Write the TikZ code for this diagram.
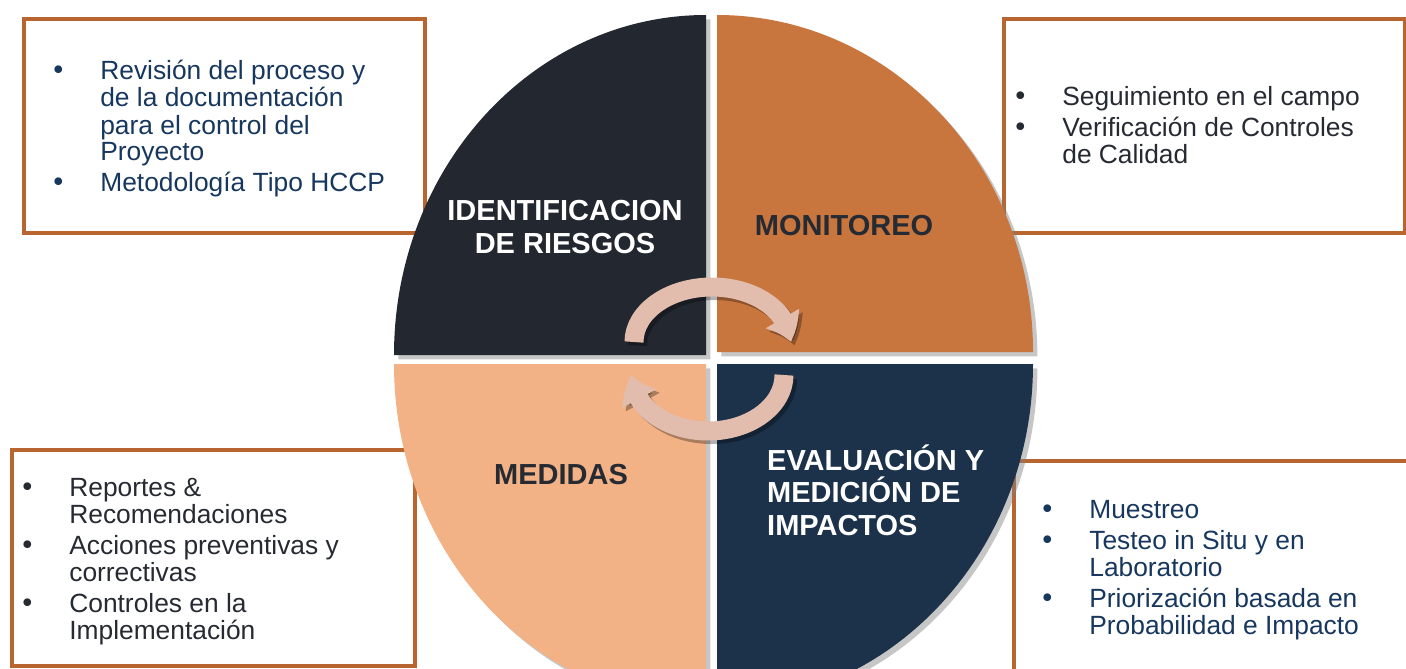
\documentclass[tikz,border=0pt]{standalone}
\usepackage{fontspec}
\setmainfont{Liberation Sans}
\newfontfamily\bulletfont{DejaVu Sans}
\usepackage{array}
\usetikzlibrary{arrows.meta,bending,shadows}
\definecolor{riesgo}{RGB}{35,39,48}
\definecolor{monit}{RGB}{200,118,62}
\definecolor{medida}{RGB}{243,178,134}
\definecolor{evalua}{RGB}{28,49,74}
\definecolor{flecha}{RGB}{226,188,172}
\definecolor{marco}{RGB}{184,101,48}
\definecolor{azul}{RGB}{23,55,94}
\definecolor{gris}{RGB}{38,42,50}
\pgfdeclarelayer{background}
\pgfsetlayers{background,main}
\newcolumntype{V}{@{}w{c}{1.68cm}@{}l@{}}
\newcommand{\vineta}{{\bulletfont •}}
\tikzstyle{infobox}=[draw=marco, line width=2.3pt, fill=white, rectangle,
    anchor=north west, inner sep=0pt]
\tikzstyle{bullets}=[anchor=west, inner sep=0pt,
    font=\fontsize{15}{15.3}\selectfont]
\tikzstyle{title}=[font=\fontsize{16.5}{18.4}\selectfont\bfseries, align=center]
\tikzstyle{quad}=[drop shadow={shadow xshift=2.5pt, shadow yshift=-2.5pt, opacity=0.45}]
\tikzstyle{ciclo}=[line width=0.38cm, draw=flecha,
    -{Triangle[width=0.74cm, length=0.5cm, bend]}]

\begin{document}
\begin{tikzpicture}[x=0.02cm, y=-0.02cm]
  \useasboundingbox (0,0) rectangle (1406,669);
  \clip (0,0) rectangle (1406,669);

  \begin{pgfonlayer}{background}
    \node[infobox, minimum width=8.02cm, minimum height=4.28cm] (b1) at (22,17) {};
    \node[infobox, minimum width=8.02cm, minimum height=4.28cm] (b2) at (1002,17) {};
    \node[infobox, minimum width=8.06cm, minimum height=4.32cm] (b3) at (10,448) {};
    \node[infobox, minimum width=8.6cm, minimum height=5cm] (b4) at (1012,459) {};
  \end{pgfonlayer}

  \node[bullets, text=azul] (l1) at (16,130) {\begin{tabular}{V}
    \vineta & Revisión del proceso y\\
     & de la documentación\\
     & para el control del\\
     & Proyecto\\[2pt]
    \vineta & Metodología Tipo HCCP
  \end{tabular}};
  \node[bullets, text=gris] (l2) at (978,129) {\begin{tabular}{V}
    \vineta & Seguimiento en el campo\\[2pt]
    \vineta & Verificación de Controles\\
     & de Calidad
  \end{tabular}};
  \node[bullets, text=gris] (l3) at (-15,563) {\begin{tabular}{V}
    \vineta & Reportes \&\\
     & Recomendaciones\\[2pt]
    \vineta & Acciones preventivas y\\
     & correctivas\\[2pt]
    \vineta & Controles en la\\
     & Implementación
  \end{tabular}};
  \node[bullets, text=azul] (l4) at (1005,571) {\begin{tabular}{V}
    \vineta & Muestreo\\[2pt]
    \vineta & Testeo in Situ y en\\
     & Laboratorio\\[2pt]
    \vineta & Priorización basada en\\
     & Probabilidad e Impacto
  \end{tabular}};

  % cuadrantes
  \fill[quad, riesgo] (706,355) -- (394,355)
    arc[start angle=180, end angle=270, x radius=312, y radius=340] -- cycle;
  \fill[quad, monit] (717,352) -- (1033,352)
    arc[start angle=360, end angle=270, x radius=316, y radius=337] -- cycle;
  \fill[quad, medida] (706,364) -- (394,364)
    arc[start angle=180, end angle=90, x radius=312, y radius=340] -- cycle;
  \fill[quad, evalua] (717,364) -- (1033,364)
    arc[start angle=0, end angle=90, x radius=316, y radius=340] -- cycle;

  \node[title, text=white] (ident) at (565,227) {IDENTIFICACION\\DE RIESGOS};
  \node[title, text=gris] (monitoreo) at (844,226) {MONITOREO};
  \node[title, text=gris] (medidas) at (561,475) {MEDIDAS};
  \node[title, text=white, align=left, anchor=west] (evaluacion) at (761,490)
    {EVALUACIÓN Y\\MEDICIÓN DE\\IMPACTOS};

  % flechas del ciclo
  \draw[ciclo, draw=black, opacity=0.3, transform canvas={xshift=2pt,yshift=-2pt}]
    (634,342) arc[start angle=180, end angle=360, x radius=78, y radius=55];
  \draw[ciclo, draw=black, opacity=0.3, transform canvas={xshift=2pt,yshift=-2pt}]
    (784,375) arc[start angle=0, end angle=180, x radius=76, y radius=56];
  \draw[ciclo] (634,342) arc[start angle=180, end angle=360, x radius=78, y radius=55];
  \draw[ciclo] (784,375) arc[start angle=0, end angle=180, x radius=76, y radius=56];
\end{tikzpicture}
\end{document}
